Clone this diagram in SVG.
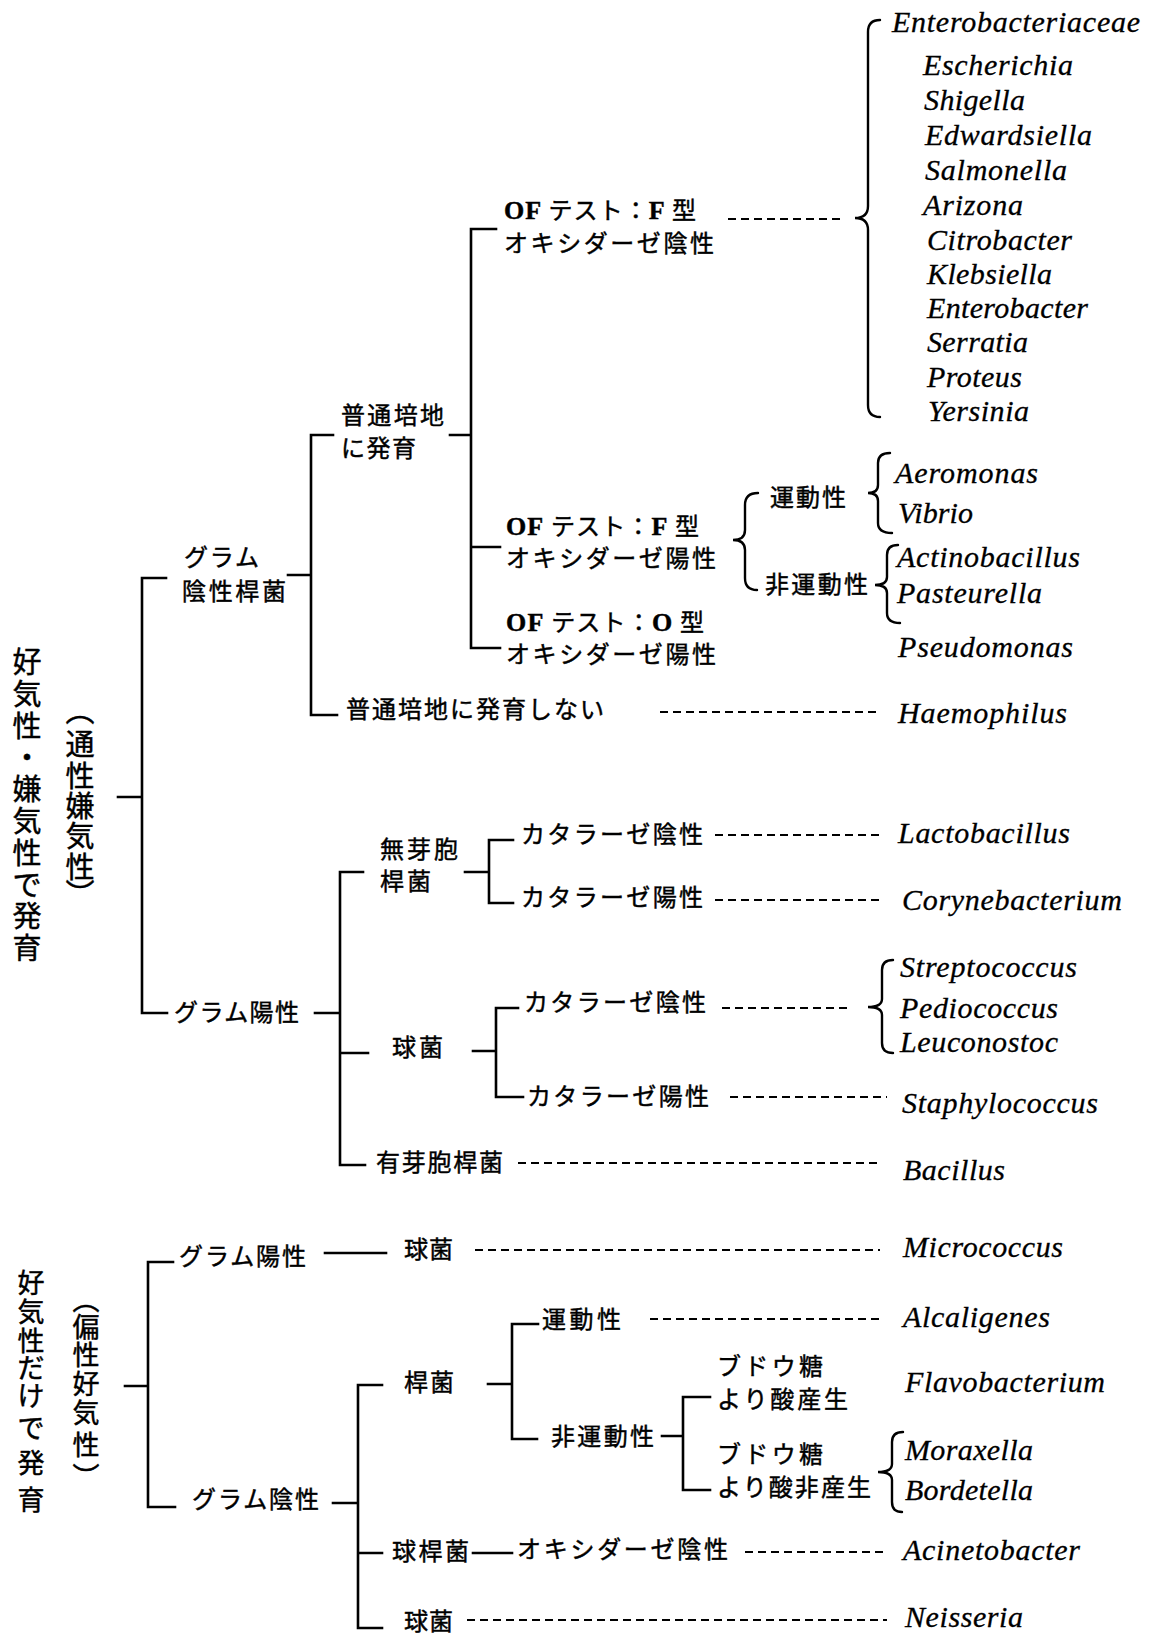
<svg xmlns="http://www.w3.org/2000/svg" width="1159" height="1634" viewBox="0 0 1159 1634">
<style>
.ln{stroke:#000;stroke-width:2.6;fill:none;stroke-linecap:square}
.ds{stroke:#000;stroke-width:2;stroke-dasharray:8 5;fill:none}
.br{stroke:#000;stroke-width:2.4;fill:none;stroke-linecap:round}
.jp{font-family:"Noto Sans CJK JP","Noto Sans CJK SC",sans-serif;font-size:24px;fill:#000;stroke:#000;stroke-width:0.45}
.sf{font-family:"Liberation Serif",serif;font-weight:bold;font-size:26px}
.la{font-family:"Liberation Serif",serif;font-style:italic;font-size:30px;fill:#000;stroke:#000;stroke-width:0.3}
.v1{font-family:"Noto Sans CJK JP",sans-serif;font-size:29px;text-anchor:middle;fill:#000;stroke:#000;stroke-width:0.45}
.v2{font-family:"Noto Sans CJK JP",sans-serif;font-size:27px;text-anchor:middle;fill:#000;stroke:#000;stroke-width:0.45}
</style>
<rect width="1159" height="1634" fill="#fff"/>

<g id="connectors">
  <path class="ln" d="M118,797 H142 M166,578 H142 V1013 H167"/>
  <path class="ln" d="M288,575 H311 M333,435 H311 V715 H337"/>
  <path class="ln" d="M450,435 H471 M496,229 H471 V648 H500 M471,547 H500"/>
  <path class="ln" d="M315,1013 H340 M363,872 H340 V1165 H365 M340,1053 H368"/>
  <path class="ln" d="M465,872 H489 M513,840 H489 V903 H513"/>
  <path class="ln" d="M473,1051 H496 M518,1008 H496 V1097 H523"/>
  <path class="ln" d="M125,1386 H148 M173,1262 H148 V1507 H175"/>
  <path class="ln" d="M325,1253 H386"/>
  <path class="ln" d="M333,1503 H358 M382,1385 H358 V1628 H382 M358,1553 H382"/>
  <path class="ln" d="M488,1384 H512 M538,1324 H512 V1439 H537"/>
  <path class="ln" d="M662,1436 H683 M710,1397 H683 V1490 H710"/>
  <path class="ln" d="M473,1553 H512"/>
  <path class="ds" d="M728,219 H843"/>
  <path class="ds" d="M660,712 H877"/>
  <path class="ds" d="M715,835 H883"/>
  <path class="ds" d="M715,900 H880"/>
  <path class="ds" d="M722,1008 H850"/>
  <path class="ds" d="M730,1097 H887"/>
  <path class="ds" d="M518,1163 H880"/>
  <path class="ds" d="M475,1250 H880"/>
  <path class="ds" d="M650,1319 H880"/>
  <path class="ds" d="M745,1552 H888"/>
  <path class="ds" d="M467,1620 H887"/>
  <path class="br" d="M880,20 Q868,20 868,32 V206 Q868,218 855,218 Q868,218 868,230 V405 Q868,417 880,417"/>
  <path class="br" d="M758,493 Q745,493 745,505 V530 Q745,540 733,540 Q745,540 745,550 V578 Q745,590 757,590"/>
  <path class="br" d="M890,453 Q878,453 878,463 V485 Q878,493 868,493 Q878,493 878,501 V523 Q878,533 892,533"/>
  <path class="br" d="M898,545 Q887,545 887,555 V577 Q887,585 875,585 Q887,585 887,593 V613 Q887,623 900,623"/>
  <path class="br" d="M893,960 Q882,960 882,970 V999 Q882,1007 868,1007 Q882,1007 882,1015 V1043 Q882,1053 893,1053"/>
  <path class="br" d="M903,1432 Q892,1432 892,1442 V1464 Q892,1472 878,1472 Q892,1472 892,1480 V1502 Q892,1512 902,1512"/>
</g>

<g id="root1">
  <text class="v1" x="27 27 27 27 27 27 27 27 27 27" y="673 705 737 768 800 832 864 896 927 959">好気性・嫌気性で発育</text>
  <text class="v1" x="80 80 80 80 80 80 80" y="722 755 787 817 847 878 905">︵通性嫌気性︶</text>
</g>

<g id="gram-neg-rod">
  <text class="jp" x="184" y="566" textLength="75">グラム</text>
  <text class="jp" x="182" y="600" textLength="104">陰性桿菌</text>
</g>
<g id="normal-medium">
  <text class="jp" x="341" y="424" textLength="103">普通培地</text>
  <text class="jp" x="341" y="457" textLength="75">に発育</text>
</g>
<g id="no-growth">
  <text class="jp" x="346" y="718" textLength="258">普通培地に発育しない</text>
</g>
<g id="of-f-neg">
  <text class="jp" x="504" y="219" textLength="192"><tspan class="sf">OF</tspan> テスト：<tspan class="sf">F</tspan> 型</text>
  <text class="jp" x="504" y="252" textLength="210">オキシダーゼ陰性</text>
</g>
<g id="of-f-pos">
  <text class="jp" x="506" y="535" textLength="193"><tspan class="sf">OF</tspan> テスト：<tspan class="sf">F</tspan> 型</text>
  <text class="jp" x="506" y="567" textLength="210">オキシダーゼ陽性</text>
</g>
<g id="of-o-pos">
  <text class="jp" x="506" y="631" textLength="198"><tspan class="sf">OF</tspan> テスト：<tspan class="sf">O</tspan> 型</text>
  <text class="jp" x="506" y="663" textLength="210">オキシダーゼ陽性</text>
</g>
<g id="motile1"><text class="jp" x="770" y="506" textLength="76">運動性</text></g>
<g id="nonmotile1"><text class="jp" x="765" y="593" textLength="103">非運動性</text></g>

<g id="enterobacteriaceae">
  <text class="la" x="892" y="32" textLength="248">Enterobacteriaceae</text>
  <text class="la" x="923" y="75" textLength="150">Escherichia</text>
  <text class="la" x="924" y="110" textLength="101">Shigella</text>
  <text class="la" x="925" y="145" textLength="167">Edwardsiella</text>
  <text class="la" x="925" y="180" textLength="142">Salmonella</text>
  <text class="la" x="923" y="215" textLength="100">Arizona</text>
  <text class="la" x="927" y="250" textLength="145">Citrobacter</text>
  <text class="la" x="927" y="284" textLength="125">Klebsiella</text>
  <text class="la" x="927" y="318" textLength="161">Enterobacter</text>
  <text class="la" x="927" y="352" textLength="101">Serratia</text>
  <text class="la" x="927" y="387" textLength="95">Proteus</text>
  <text class="la" x="928" y="421" textLength="101">Yersinia</text>
</g>
<g id="motile-genera">
  <text class="la" x="895" y="483" textLength="143">Aeromonas</text>
  <text class="la" x="898" y="523" textLength="75">Vibrio</text>
</g>
<g id="nonmotile-genera">
  <text class="la" x="897" y="567" textLength="183">Actinobacillus</text>
  <text class="la" x="897" y="603" textLength="145">Pasteurella</text>
</g>
<g id="pseudomonas"><text class="la" x="898" y="657" textLength="175">Pseudomonas</text></g>
<g id="haemophilus"><text class="la" x="898" y="723" textLength="169">Haemophilus</text></g>

<g id="gram-pos1"><text class="jp" x="174" y="1021" textLength="125">グラム陽性</text></g>
<g id="non-spore-rod">
  <text class="jp" x="380" y="858" textLength="78">無芽胞</text>
  <text class="jp" x="380" y="890" textLength="51">桿菌</text>
</g>
<g id="cat-neg1"><text class="jp" x="521" y="843" textLength="182">カタラーゼ陰性</text></g>
<g id="cat-pos1"><text class="jp" x="521" y="906" textLength="182">カタラーゼ陽性</text></g>
<g id="coccus1"><text class="jp" x="392" y="1056" textLength="51">球菌</text></g>
<g id="cat-neg2"><text class="jp" x="524" y="1011" textLength="182">カタラーゼ陰性</text></g>
<g id="cat-pos2"><text class="jp" x="527" y="1105" textLength="182">カタラーゼ陽性</text></g>
<g id="spore-rod"><text class="jp" x="376" y="1171" textLength="127">有芽胞桿菌</text></g>
<g id="lactobacillus"><text class="la" x="898" y="843" textLength="172">Lactobacillus</text></g>
<g id="corynebacterium"><text class="la" x="902" y="910" textLength="220">Corynebacterium</text></g>
<g id="cocci-genera">
  <text class="la" x="900" y="977" textLength="177">Streptococcus</text>
  <text class="la" x="900" y="1018" textLength="158">Pediococcus</text>
  <text class="la" x="900" y="1052" textLength="158">Leuconostoc</text>
</g>
<g id="staphylococcus"><text class="la" x="902" y="1113" textLength="196">Staphylococcus</text></g>
<g id="bacillus"><text class="la" x="903" y="1180" textLength="102">Bacillus</text></g>

<g id="root2">
  <text class="v2" x="31 31 31 31 31 31 31 31" y="1293 1322 1351 1378 1406 1438 1473 1510">好気性だけで発育</text>
  <text class="v2" x="86 86 86 86 86 86 86" y="1310 1337 1365 1394 1423 1455 1487">︵偏性好気性︶</text>
</g>
<g id="gram-pos2"><text class="jp" x="179" y="1265" textLength="127">グラム陽性</text></g>
<g id="coccus2"><text class="jp" x="404" y="1258" textLength="49">球菌</text></g>
<g id="micrococcus"><text class="la" x="903" y="1257" textLength="160">Micrococcus</text></g>
<g id="gram-neg2"><text class="jp" x="192" y="1508" textLength="127">グラム陰性</text></g>
<g id="rod3"><text class="jp" x="404" y="1391" textLength="50">桿菌</text></g>
<g id="motile2"><text class="jp" x="542" y="1328" textLength="79">運動性</text></g>
<g id="alcaligenes"><text class="la" x="903" y="1327" textLength="147">Alcaligenes</text></g>
<g id="nonmotile2"><text class="jp" x="551" y="1445" textLength="103">非運動性</text></g>
<g id="glucose-acid">
  <text class="jp" x="717" y="1375" textLength="106">ブドウ糖</text>
  <text class="jp" x="717" y="1408" textLength="131">より酸産生</text>
</g>
<g id="flavobacterium"><text class="la" x="905" y="1392" textLength="200">Flavobacterium</text></g>
<g id="glucose-noacid">
  <text class="jp" x="717" y="1463" textLength="106">ブドウ糖</text>
  <text class="jp" x="717" y="1496" textLength="154">より酸非産生</text>
</g>
<g id="noacid-genera">
  <text class="la" x="905" y="1460" textLength="128">Moraxella</text>
  <text class="la" x="905" y="1500" textLength="128">Bordetella</text>
</g>
<g id="coccobacillus"><text class="jp" x="392" y="1560" textLength="77">球桿菌</text></g>
<g id="oxi-neg2"><text class="jp" x="517" y="1558" textLength="211">オキシダーゼ陰性</text></g>
<g id="acinetobacter"><text class="la" x="903" y="1560" textLength="177">Acinetobacter</text></g>
<g id="coccus3"><text class="jp" x="404" y="1630" textLength="49">球菌</text></g>
<g id="neisseria"><text class="la" x="905" y="1627" textLength="118">Neisseria</text></g>
</svg>
